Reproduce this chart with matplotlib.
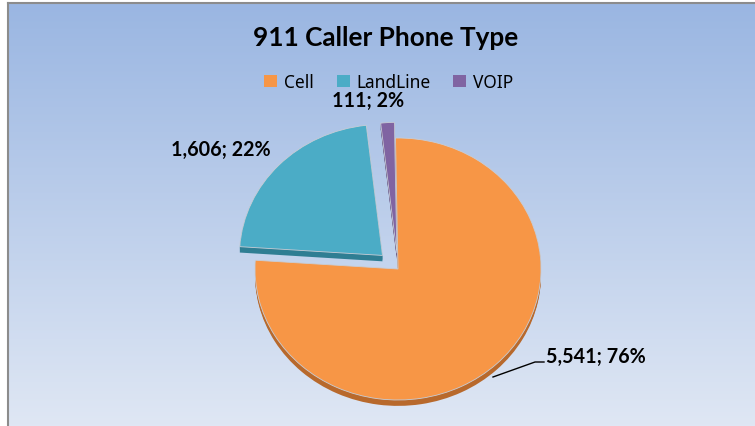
import matplotlib.pyplot as plt
import numpy as np
from matplotlib.patches import Patch

# chart data
labels = ["Cell", "LandLine", "VOIP"]
counts = [5541, 1606, 111]
colors = ["#F79646", "#4BACC6", "#8064A2"]
side_colors = ["#B8692C", "#2F7E93", "#5C4779"]
explode = [0.0, 0.15, 0.12]

W, H = 755, 427
FONT = "Noto Sans"
BOLD = "Lato"
fig = plt.figure(figsize=(W / 100, H / 100), dpi=100)
fig.patch.set_facecolor("white")

# gradient background with grey border on top/left
bg = fig.add_axes([8 / W, 0, 1 - 8 / W, 1 - 4 / H])
grad = np.linspace(0, 1, 256)[:, None]
top = np.array([0.604, 0.714, 0.886])
bot = np.array([0.875, 0.906, 0.957])
img = top + (bot - top) * grad[..., None]
bg.imshow(img, aspect="auto", extent=[0, 1, 0, 1], origin="upper")
bg.set_xticks([])
bg.set_yticks([])
for s in ["right", "bottom"]:
    bg.spines[s].set_visible(False)
for s in ["left", "top"]:
    bg.spines[s].set_color("#8c8c8c")
    bg.spines[s].set_linewidth(1.5)

# pie axes: 1 unit = 143 px horizontally, 131 px vertically (tilted look)
cx, cy = 398, 270
rx, ry = 143, 131
xl, yl = 2.0, 1.7
ax = fig.add_axes([(cx - xl * rx) / W, (H - cy - yl * ry) / H,
                   2 * xl * rx / W, 2 * yl * ry / H])
ax.set_facecolor("none")
depth = 0.045

# side faces (shifted down copies)
for d in np.linspace(0, depth, 6)[1:]:
    ww, _ = ax.pie(counts, startangle=91, counterclock=False, explode=explode,
                   colors=side_colors, center=(0, -d), radius=1,
                   wedgeprops=dict(linewidth=0))
    for w in ww:
        w.set_zorder(1)

wedges, _ = ax.pie(counts, startangle=91, counterclock=False, explode=explode,
                   colors=colors, radius=1,
                   wedgeprops=dict(edgecolor="#c8cdd6", linewidth=0.6))
for w in wedges:
    w.set_zorder(2)
ax.set_aspect("auto")
ax.set_xlim(-xl, xl)
ax.set_ylim(-yl, yl)
ax.axis("off")

# data labels
total = sum(counts)
lab_txt = [f"{c:,}; {round(100 * c / total)}%" for c in counts]
lab_pos = [(546, 357, "left"), (221, 150, "center"), (368, 101, "center")]
for t, (x, y, ha) in zip(lab_txt, lab_pos):
    fig.text(x / W, 1 - y / H, t, ha=ha, va="center", fontsize=14.2,
             fontweight="bold", family=BOLD, color="black")
# leader line for Cell label
fig.add_artist(plt.Line2D([493 / W, 535 / W, 544 / W],
                          [1 - 378 / H, 1 - 363 / H, 1 - 363 / H],
                          color="black", linewidth=1))

fig.text(386 / W, 1 - 38 / H, "911 Caller Phone Type", ha="center", va="center",
         fontsize=18.8, fontweight="bold", family=BOLD)

handles = [Patch(facecolor=c, edgecolor="none") for c in colors]
fig.legend(handles, labels, loc="center", bbox_to_anchor=(389 / W, 1 - 83 / H),
           ncol=3, frameon=False, handlelength=0.75,
           handleheight=0.75, handletextpad=0.4, columnspacing=1.3,
           prop={"family": FONT, "size": 12.5})

fig.savefig("out.png", dpi=100)
